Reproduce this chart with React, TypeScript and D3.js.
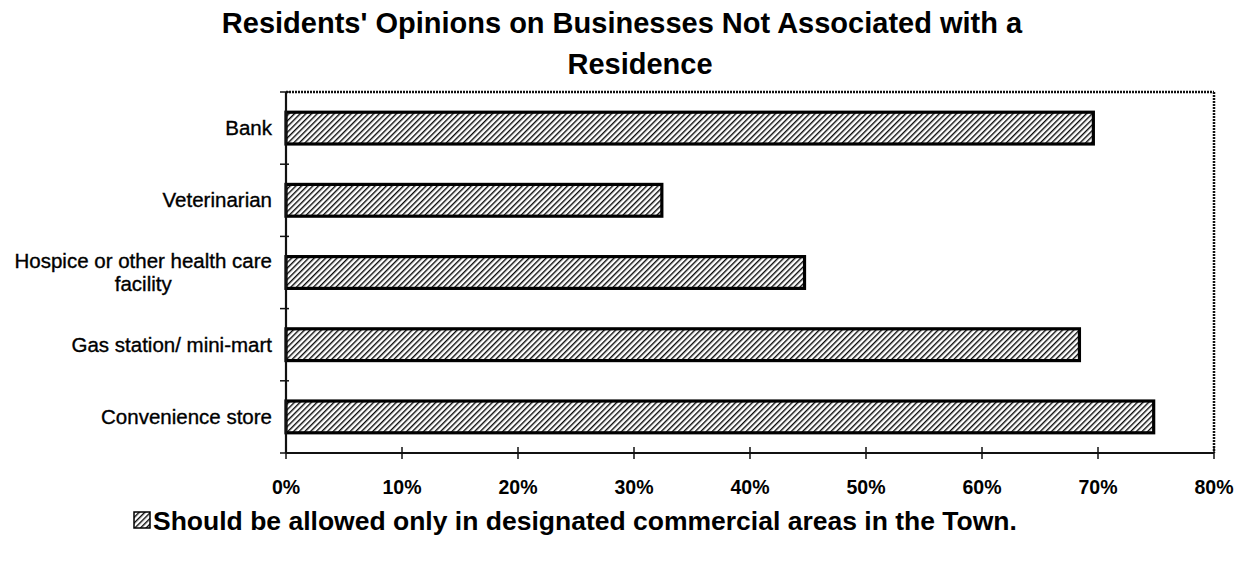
import React, { useEffect, useRef } from "react";
import * as d3 from "d3";

const categories: string[][] = [
  ["Bank"],
  ["Veterinarian"],
  ["Hospice or other health care", "facility"],
  ["Gas station/ mini-mart"],
  ["Convenience store"],
];
const values: number[] = [0.696, 0.324, 0.447, 0.684, 0.748];
const xTicks: number[] = [0, 0.1, 0.2, 0.3, 0.4, 0.5, 0.6, 0.7, 0.8];
const titleLines: string[] = [
  "Residents' Opinions on Businesses Not Associated with a",
  "Residence",
];
const legendLabel = "Should be allowed only in designated commercial areas in the Town.";

const W = 1243;
const H = 567;
const M = { left: 286, right: 1214, top: 92, bottom: 453 };
const FONT = "'Liberation Sans', Arial, Helvetica, sans-serif";
const titleX = [622, 640];
const titleY = [33, 74];

export default function App() {
  const ref = useRef<SVGSVGElement>(null);

  useEffect(() => {
    const svg = d3.select(ref.current);
    svg.selectAll("*").remove();

    const defs = svg.append("defs");
    const pat = defs
      .append("pattern")
      .attr("id", "hatch")
      .attr("patternUnits", "userSpaceOnUse")
      .attr("width", 4)
      .attr("height", 4)
      .attr("patternTransform", "rotate(45)");
    pat.append("rect").attr("width", 4).attr("height", 4).attr("fill", "#fff");
    pat
      .append("line")
      .attr("x1", 0)
      .attr("y1", 0)
      .attr("x2", 0)
      .attr("y2", 4)
      .attr("stroke", "#0a0a0a")
      .attr("stroke-width", 2.8);

    const x = d3.scaleLinear().domain([0, 0.8]).range([M.left, M.right]);
    const y = d3
      .scaleBand<number>()
      .domain(d3.range(categories.length))
      .range([M.top, M.bottom])
      .paddingInner(0.56)
      .paddingOuter(0.28);
    const step = y.step();

    // Title
    svg
      .append("g")
      .selectAll("text")
      .data(titleLines)
      .join("text")
      .attr("x", (_d, i) => titleX[i])
      .attr("y", (_d, i) => titleY[i])
      .attr("text-anchor", "middle")
      .attr("font-family", FONT)
      .attr("font-weight", "bold")
      .attr("font-size", 29)
      .attr("fill", "#000")
      .text((d) => d);

    // Bars
    svg
      .append("g")
      .selectAll("rect")
      .data(values)
      .join("rect")
      .attr("x", x(0))
      .attr("y", (_d, i) => (y(i) as number))
      .attr("width", (d) => x(d) - x(0))
      .attr("height", y.bandwidth())
      .attr("fill", "url(#hatch)")
      .attr("stroke", "#000")
      .attr("stroke-width", 3.2);

    // Frame
    const frame = svg.append("g").attr("stroke", "#111").attr("fill", "none");
    frame.append("line").attr("x1", M.left).attr("x2", M.right).attr("y1", M.top).attr("y2", M.top).attr("stroke-width", 2.5).attr("stroke-dasharray", "2 1");
    frame.append("line").attr("x1", M.right).attr("x2", M.right).attr("y1", M.top).attr("y2", M.bottom).attr("stroke-width", 2.5).attr("stroke-dasharray", "2 1");
    frame.append("line").attr("x1", M.left).attr("x2", M.left).attr("y1", M.top).attr("y2", M.bottom).attr("stroke-width", 2.2);
    frame.append("line").attr("x1", M.left).attr("x2", M.right).attr("y1", M.bottom).attr("y2", M.bottom).attr("stroke-width", 2.2);

    // Y category ticks (at band boundaries)
    const yb = d3.range(categories.length + 1).map((i) => M.top + i * step);
    frame
      .selectAll("line.yt")
      .data(yb)
      .join("line")
      .attr("class", "yt")
      .attr("x1", M.left - 6)
      .attr("x2", M.left + 3)
      .attr("y1", (d) => d)
      .attr("y2", (d) => d)
      .attr("stroke-width", 1.5);

    // X ticks
    frame
      .selectAll("line.xt")
      .data(xTicks)
      .join("line")
      .attr("class", "xt")
      .attr("x1", (d) => x(d))
      .attr("x2", (d) => x(d))
      .attr("y1", M.bottom - 6)
      .attr("y2", M.bottom + 6)
      .attr("stroke-width", 1.5);

    // X tick labels
    svg
      .append("g")
      .selectAll("text")
      .data(xTicks)
      .join("text")
      .attr("x", (d) => x(d))
      .attr("y", 494)
      .attr("text-anchor", "middle")
      .attr("font-family", FONT)
      .attr("font-weight", "bold")
      .attr("font-size", 19.5)
      .attr("fill", "#000")
      .text((d) => d3.format(".0%")(d));

    // Category labels
    const labelRight = 272;
    const cg = svg.append("g");
    categories.forEach((lines, i) => {
      const cy = (y(i) as number) + y.bandwidth() / 2;
      const g = cg.append("g");
      const texts = lines.map((ln, j) =>
        g
          .append("text")
          .attr("y", cy + (j - (lines.length - 1) / 2) * 23 + 7)
          .attr("font-family", FONT)
          .attr("font-size", 20.5)
          .attr("fill", "#000")
          .attr("stroke", "#000")
          .attr("stroke-width", 0.35)
          .attr("text-anchor", "middle")
          .text(ln)
      );
      const widths = texts.map((t) => (t.node() as SVGTextElement).getComputedTextLength());
      const maxW = Math.max(...widths);
      texts.forEach((t) => t.attr("x", labelRight - maxW / 2));
    });

    // Legend
    const lg = svg.append("g");
    lg.append("rect")
      .attr("x", 134)
      .attr("y", 512)
      .attr("width", 16)
      .attr("height", 16)
      .attr("fill", "url(#hatch)")
      .attr("stroke", "#000")
      .attr("stroke-width", 1.5);
    lg.append("text")
      .attr("x", 153)
      .attr("y", 530)
      .attr("font-family", FONT)
      .attr("font-weight", "bold")
      .attr("font-size", 26.5)
      .attr("fill", "#000")
      .text(legendLabel);
  }, []);

  return (
    <svg
      ref={ref}
      width={W}
      height={H}
      viewBox={`0 0 ${W} ${H}`}
      style={{ position: "absolute", left: 0, top: 0, background: "#fff" }}
    />
  );
}
